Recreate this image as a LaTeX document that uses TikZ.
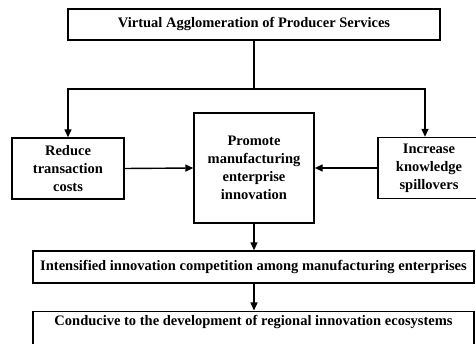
\documentclass[tikz,border=0pt]{standalone}
\usepackage{fontspec}
\setmainfont{Liberation Serif}
\usetikzlibrary{arrows.meta}
\begin{document}
\begin{tikzpicture}[x=1pt,y=-1pt,
  box/.style={draw,line width=1.4pt,inner sep=0pt,font=\bfseries\fontsize{14.5}{18}\selectfont,align=center},
  link/.style={line width=1.4pt},
  arr/.style={link,-{Triangle[width=7pt,length=8pt]}}]
\useasboundingbox (0,0) rectangle (476,344);
% boxes, given by their centres and sizes
\node[box,minimum width=372pt,minimum height=31pt] (top) at (254,24.5) {Virtual Agglomeration of Producer Services};
\node[box,minimum width=112pt,minimum height=61pt] (reduce) at (68,168.5) {Reduce\\transaction\\costs};
\node[box,minimum width=120pt,minimum height=110pt] (centre) at (254,168) {Promote\\manufacturing\\enterprise\\innovation};
\node[box,minimum width=102pt,minimum height=61pt,text width=102pt] (increase) at (429,168) {Increase\\knowledge\\spillovers};
\node[box,minimum width=441pt,minimum height=32pt] (compete) at (253.5,267) {Intensified innovation competition among manufacturing enterprises};
\node[box,anchor=north,minimum width=441pt,inner ysep=4pt,text height=10pt,text depth=26pt] (eco) at (253.5,310.5) {Conducive to the development of regional innovation ecosystems};
% branching connectors
\coordinate (split) at (254,89);
\draw[link] (top.south) -- (split);
\draw[arr] (split) -| (reduce.north);
\draw[arr] (split) -| ([xshift=-4pt]increase.north);
\draw[arr] (reduce.east) -- (centre.west);
\draw[arr] (increase.west) -- (centre.west -| centre.east);
\draw[arr] (centre.south) -- (compete.north -| centre.south);
\draw[arr] (compete.south -| centre.south) -- (eco.north -| centre.south);
\end{tikzpicture}
\end{document}
